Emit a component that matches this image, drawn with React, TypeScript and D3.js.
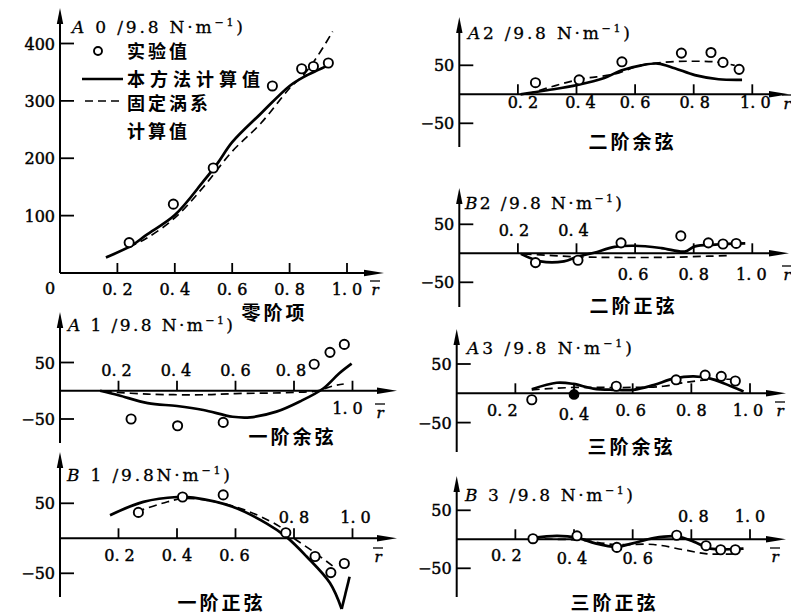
import React from "react";
import * as d3 from "d3";

type Pt = [number, number];

// ---------- tick values / labels ----------
const xTicks = [0.2, 0.4, 0.6, 0.8, 1.0];
const xTickLabels = ["0. 2", "0. 4", "0. 6", "0. 8", "1. 0"];
const a0YTicks = [100, 200, 300, 400];
const harmonicYTicks = [-50, 50];
const legendLabels = ["实验值", "本方法计算值", "固定涡系", "计算值"];

// ---------- data (r, value /9.8 N·m^-1) ----------
const a0Exp: Pt[] = [[0.241, 53], [0.395, 120], [0.534, 183], [0.74, 326], [0.842, 356], [0.883, 360], [0.935, 366]];
const a0Solid: Pt[] = [[0.16, 27], [0.25, 48], [0.3, 66], [0.4, 101], [0.5, 160], [0.55, 192], [0.6, 228], [0.7, 278], [0.8, 326], [0.85, 342], [0.9, 354], [0.93, 361]];
const a0Dashed: Pt[] = [[0.24, 45], [0.3, 60], [0.4, 96], [0.5, 150], [0.6, 212], [0.7, 261], [0.8, 322], [0.85, 346], [0.9, 380], [0.95, 421]];

const a1Exp: Pt[] = [[0.243, -50], [0.402, -62], [0.558, -56], [0.869, 47], [0.923, 68], [0.972, 82]];
const a1Solid: Pt[] = [[0.137, 0], [0.2, -8], [0.3, -22], [0.4, -27], [0.49, -34], [0.59, -46], [0.65, -47], [0.74, -37], [0.82, -19], [0.9, 4], [0.955, 31], [0.997, 48]];
const a1Dashed: Pt[] = [[0.15, -1], [0.3, -6], [0.5, -7], [0.6, -5], [0.8, -3], [0.88, 0], [0.93, 8], [0.97, 12]];

const b1Exp: Pt[] = [[0.268, 37], [0.419, 59], [0.558, 62], [0.772, 8], [0.872, -26], [0.926, -49], [0.972, -36]];
const b1Solid: Pt[] = [[0.171, 33], [0.285, 52], [0.4, 59], [0.456, 58], [0.59, 45], [0.707, 21], [0.774, 2], [0.843, -26], [0.923, -64], [0.963, -101]];
const b1SolidTail: Pt[] = [[0.963, -101], [0.99, -55]];
const b1Dashed: Pt[] = [[0.262, 38], [0.35, 50], [0.43, 57], [0.6, 45], [0.75, 17], [0.8, 0], [0.866, -19], [0.934, -40]];

const a2Exp: Pt[] = [[0.26, 20], [0.409, 25], [0.555, 56], [0.758, 71], [0.859, 72], [0.9, 55], [0.955, 43]];
const a2Solid: Pt[] = [[0.209, 0], [0.3, 7], [0.403, 16], [0.495, 28], [0.552, 41], [0.621, 50], [0.678, 53], [0.735, 45], [0.804, 33], [0.885, 26], [0.965, 25]];
const a2Dashed: Pt[] = [[0.23, 0], [0.403, 25], [0.53, 35], [0.62, 50], [0.72, 56], [0.8, 57], [0.87, 56], [0.94, 50]];

const b2Exp: Pt[] = [[0.26, -16], [0.405, -12], [0.552, 18], [0.756, 30], [0.85, 18], [0.9, 16], [0.945, 17]];
const b2Solid: Pt[] = [[0.21, -1], [0.277, -14], [0.357, -14], [0.403, -6], [0.46, 1], [0.53, 11], [0.598, 13], [0.69, 9], [0.77, 3], [0.804, 12], [0.873, 15], [0.976, 17]];
const b2Dashed: Pt[] = [[0.22, -1], [0.4, -6], [0.5, -7], [0.7, -7], [0.85, -5], [0.92, -4]];

const a3Exp: Pt[] = [[0.256, -11], [0.544, 12], [0.748, 23], [0.847, 31], [0.902, 29], [0.95, 21]];
const a3Filled: Pt[] = [[0.4, -2]];
const a3Solid: Pt[] = [[0.256, 7], [0.341, 18], [0.398, 16], [0.466, 8], [0.534, 6], [0.603, 6], [0.671, 14], [0.739, 25], [0.808, 29], [0.865, 25], [0.91, 17], [0.978, 3]];
const a3Dashed: Pt[] = [[0.256, 6], [0.398, 10], [0.49, 10], [0.6, 10], [0.705, 12], [0.773, 18], [0.853, 23], [0.944, 24]];

const b3Exp: Pt[] = [[0.26, 1], [0.41, 6], [0.546, -14], [0.75, 7], [0.85, -11], [0.9, -18], [0.95, -18]];
const b3Solid: Pt[] = [[0.256, 2], [0.341, 6], [0.41, 3], [0.473, -7], [0.542, -13], [0.6, -7], [0.671, 2], [0.75, 5], [0.808, -4], [0.865, -16], [0.978, -16]];
const b3Dashed: Pt[] = [[0.256, 0], [0.41, -1], [0.54, -9], [0.671, -9], [0.773, -18], [0.853, -25], [0.944, -25]];

// ---------- layout ----------
interface PanelDef {
  letter: string;
  rest: string;
  title: string;
  yTicks: number[];
  yDomain: [number, number];
  yRange: [number, number];
  xRange: [number, number];
  zeroVal: number;
  axisTop: number;
  axisBottom: number;
  xAxisEnd: number;
  labelOffsets: [number, number][];
  rbar: [number, number];
  titlePos: [number, number];
  yLabel: [number, number, number];
  solid: Pt[];
  tail?: Pt[];
  dashed: Pt[];
  exp: Pt[];
  filled?: Pt[];
}

const panels: PanelDef[] = [
  {
    letter: "A", rest: " 0 /9.8 N·m", title: "零阶项", yTicks: a0YTicks,
    yDomain: [0, 400], yRange: [273, 43.5], xRange: [60, 347], zeroVal: 0,
    axisTop: 8, axisBottom: 273, xAxisEnd: 384,
    labelOffsets: [[0, 22], [0, 22], [0, 22], [0, 22], [0, 22]],
    rbar: [375, 295], titlePos: [273, 313], yLabel: [72, 33, 171],
    solid: a0Solid, dashed: a0Dashed, exp: a0Exp,
  },
  {
    letter: "A", rest: " 1 /9.8 N·m", title: "一阶余弦", yTicks: harmonicYTicks,
    yDomain: [-50, 50], yRange: [419, 362.5], xRange: [60, 352.5], zeroVal: 0,
    axisTop: 312, axisBottom: 443, xAxisEnd: 397,
    labelOffsets: [[-2, -15], [-1, -15], [0, -15], [-3, -15], [-5, 23]],
    rbar: [380, 418], titlePos: [291, 437], yLabel: [68, 331, 165],
    solid: a1Solid, dashed: a1Dashed, exp: a1Exp,
  },
  {
    letter: "B", rest: " 1 /9.8N·m", title: "一阶正弦", yTicks: harmonicYTicks,
    yDomain: [-50, 50], yRange: [573.3, 503.3], xRange: [60, 352.5], zeroVal: 0,
    axisTop: 452, axisBottom: 597, xAxisEnd: 397,
    labelOffsets: [[1, 23], [0, 23], [-1, 23], [0, -15], [3, -15]],
    rbar: [378, 562], titlePos: [220, 603], yLabel: [67, 481, 163],
    solid: b1Solid, tail: b1SolidTail, dashed: b1Dashed, exp: b1Exp,
  },
  {
    letter: "A", rest: "2 /9.8 N·m", title: "二阶余弦", yTicks: harmonicYTicks,
    yDomain: [-50, 50], yRange: [123.3, 65.3], xRange: [459.3, 752.3], zeroVal: 0,
    axisTop: 17, axisBottom: 147, xAxisEnd: 789,
    labelOffsets: [[5, 14], [4, 14], [0, 14], [1, 14], [3, 14]],
    rbar: [787, 109], titlePos: [631, 142], yLabel: [468, 39, 162],
    solid: a2Solid, dashed: a2Dashed, exp: a2Exp,
  },
  {
    letter: "B", rest: "2 /9.8 N·m", title: "二阶正弦", yTicks: harmonicYTicks,
    yDomain: [-50, 50], yRange: [282.3, 224.3], xRange: [459.3, 752.3], zeroVal: 0,
    axisTop: 188, axisBottom: 307, xAxisEnd: 789,
    labelOffsets: [[-4, -17], [-3, -17], [-2, 27], [0, 27], [-1, 27]],
    rbar: [787, 280], titlePos: [632, 306], yLabel: [465, 209, 157],
    solid: b2Solid, dashed: b2Dashed, exp: b2Exp,
  },
  {
    letter: "A", rest: "3 /9.8 N·m", title: "三阶余弦", yTicks: harmonicYTicks,
    yDomain: [-50, 50], yRange: [422.6, 364], xRange: [456.7, 750], zeroVal: 0,
    axisTop: 329, axisBottom: 452, xAxisEnd: 786,
    labelOffsets: [[-13, 23], [0, 27], [-2, 23], [0, 23], [-2, 23]],
    rbar: [780, 416], titlePos: [630, 447], yLabel: [467, 354, 165],
    solid: a3Solid, dashed: a3Dashed, exp: a3Exp, filled: a3Filled,
  },
  {
    letter: "B", rest: " 3 /9.8 N·m", title: "三阶正弦", yTicks: harmonicYTicks,
    yDomain: [-50, 50], yRange: [568.3, 510.3], xRange: [456.7, 750], zeroVal: 0,
    axisTop: 476, axisBottom: 597, xAxisEnd: 786,
    labelOffsets: [[-9, 22], [-2, 25], [5, 25], [2, -17], [0, -17]],
    rbar: [775, 562], titlePos: [613, 603], yLabel: [465, 501, 168],
    solid: b3Solid, dashed: b3Dashed, exp: b3Exp,
  },
];

const NUM_FONT = "'DejaVu Serif', 'Liberation Serif', serif";
const CJK_FONT = "'Noto Sans CJK SC', sans-serif";
const numStroke = { stroke: "#000", strokeWidth: 0.45 };

function Panel({ p }: { p: PanelDef }) {
  const x = d3.scaleLinear().domain([0, 1]).range(p.xRange);
  const y = d3.scaleLinear().domain(p.yDomain).range(p.yRange);
  const x0 = x(0);
  const yz = y(p.zeroVal);
  const line = d3
    .line<Pt>()
    .x((d) => x(d[0]))
    .y((d) => y(d[1]))
    .curve(d3.curveCatmullRom.alpha(0.5));
  const straight = d3.line<Pt>().x((d) => x(d[0])).y((d) => y(d[1]));
  const [lx, ly, lw] = p.yLabel;
  return (
    <g>
      {/* axes */}
      <line x1={x0} x2={x0} y1={p.axisBottom} y2={p.axisTop + 10} stroke="#000" strokeWidth={2} />
      <path d={`M${x0},${p.axisTop} L${x0 - 3.2},${p.axisTop + 16} L${x0 + 3.2},${p.axisTop + 16} Z`} fill="#000" />
      <line x1={x0} x2={p.xAxisEnd - 10} y1={yz} y2={yz} stroke="#000" strokeWidth={2} />
      <path d={`M${p.xAxisEnd},${yz} L${p.xAxisEnd - 20},${yz - 3.2} L${p.xAxisEnd - 20},${yz + 3.2} Z`} fill="#000" />
      {/* y ticks */}
      {p.yTicks.map((t) => (
        <g key={t}>
          <line x1={x0} x2={x0 + 14} y1={y(t)} y2={y(t)} stroke="#000" strokeWidth={1.8} />
          <text x={x0 - 5} y={y(t) + 6} textAnchor="end" fontFamily={NUM_FONT} fontSize={16} {...numStroke}>
            {t < 0 ? "−" + Math.abs(t) : String(t)}
          </text>
        </g>
      ))}
      {/* x ticks */}
      {xTicks.map((t, i) => (
        <g key={t}>
          <line x1={x(t)} x2={x(t)} y1={yz} y2={yz - 10} stroke="#000" strokeWidth={1.8} />
          <text
            x={x(t) + p.labelOffsets[i][0]}
            y={yz + p.labelOffsets[i][1]}
            textAnchor="middle"
            fontFamily={NUM_FONT}
            fontSize={16}
            {...numStroke}
          >
            {xTickLabels[i]}
          </text>
        </g>
      ))}
      {/* r-bar */}
      <text x={p.rbar[0]} y={p.rbar[1]} textAnchor="middle" fontFamily={NUM_FONT} fontStyle="italic" fontSize={15} {...numStroke}>
        r
      </text>
      <line x1={p.rbar[0] - 5} x2={p.rbar[0] + 5} y1={p.rbar[1] - 14} y2={p.rbar[1] - 14} stroke="#000" strokeWidth={1.3} />
      {/* y label */}
      <text x={lx} y={ly} fontFamily={NUM_FONT} fontSize={17} textLength={lw} lengthAdjust="spacing" stroke="#000" strokeWidth={0.3}>
        <tspan fontStyle="italic">{p.letter}</tspan>
        {p.rest}
        <tspan dy={-7} fontSize={11}>−1</tspan>
        <tspan dy={7}>)</tspan>
      </text>
      {/* title */}
      <text x={p.titlePos[0] + 1.5} y={p.titlePos[1] + 7} textAnchor="middle" fontFamily={CJK_FONT} fontWeight="bold" fontSize={19} letterSpacing={3}>
        {p.title}
      </text>
      {/* curves */}
      <path d={line(p.dashed) || ""} fill="none" stroke="#000" strokeWidth={1.7} strokeDasharray="8 5" />
      <path d={line(p.solid) || ""} fill="none" stroke="#000" strokeWidth={2.7} />
      {p.tail && <path d={straight(p.tail) || ""} fill="none" stroke="#000" strokeWidth={2.7} />}
      {p.exp.map((d, i) => (
        <circle key={i} cx={x(d[0])} cy={y(d[1])} r={4.6} fill="#fff" stroke="#000" strokeWidth={1.9} />
      ))}
      {(p.filled || []).map((d, i) => (
        <circle key={"f" + i} cx={x(d[0])} cy={y(d[1])} r={4.6} fill="#000" stroke="#000" strokeWidth={1.5} />
      ))}
    </g>
  );
}

export default function App() {
  return (
    <svg
      width={791}
      height={615}
      viewBox="0 0 791 615"
      style={{ position: "absolute", left: 0, top: 0, background: "#fff" }}
    >
      <rect x={0} y={0} width={791} height={615} fill="#fff" />
      {panels.map((p, i) => (
        <Panel key={i} p={p} />
      ))}
      {/* origin label of zero-order panel */}
      <text x={50} y={294} textAnchor="middle" fontFamily={NUM_FONT} fontSize={16} {...numStroke}>0</text>
      {/* legend */}
      <circle cx={98} cy={51} r={4} fill="#fff" stroke="#000" strokeWidth={1.9} />
      <text x={127} y={58} fontFamily={CJK_FONT} fontWeight="bold" fontSize={18} letterSpacing={3}>{legendLabels[0]}</text>
      <line x1={82} x2={123} y1={79} y2={79} stroke="#000" strokeWidth={2.7} />
      <text x={127} y={86} fontFamily={CJK_FONT} fontWeight="bold" fontSize={18} letterSpacing={5}>{legendLabels[1]}</text>
      <line x1={85} x2={123} y1={101} y2={101} stroke="#000" strokeWidth={1.7} strokeDasharray="8 5" />
      <text x={127} y={110} fontFamily={CJK_FONT} fontWeight="bold" fontSize={18} letterSpacing={3}>{legendLabels[2]}</text>
      <text x={127} y={138} fontFamily={CJK_FONT} fontWeight="bold" fontSize={18} letterSpacing={3}>{legendLabels[3]}</text>
    </svg>
  );
}
